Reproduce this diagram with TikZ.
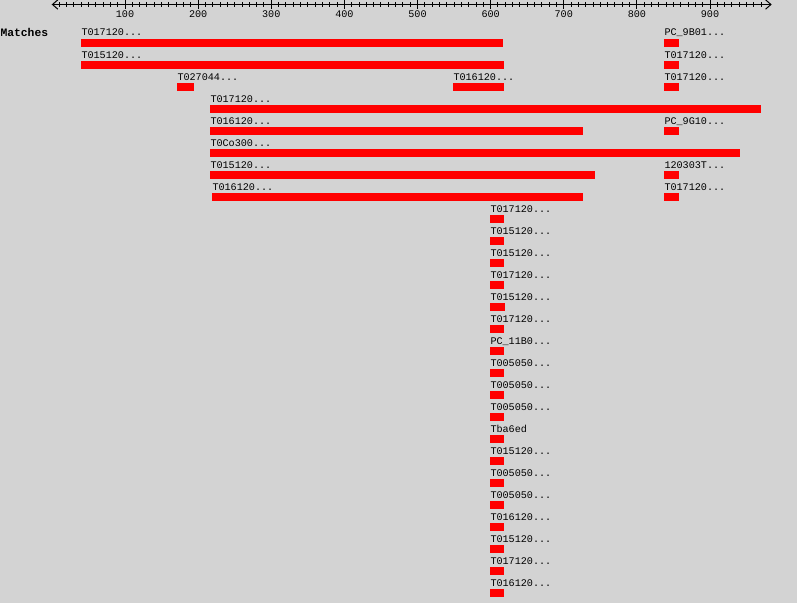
\documentclass[tikz,border=0pt]{standalone}
\usepackage{fontspec}
\setmonofont{Liberation Mono}
\usetikzlibrary{arrows.meta}
\definecolor{panel}{HTML}{D3D3D3}
\definecolor{hitred}{HTML}{FF0000}

\begin{document}
\begin{tikzpicture}[x=0.75pt,y=-0.75pt,line width=0.75pt,
    lab/.style={anchor=base west,inner sep=0pt,font=\ttfamily\fontsize{7.6}{9}\selectfont},
    ticklab/.style={anchor=base,inner sep=0pt,font=\ttfamily\fontsize{7.6}{9}\selectfont},
    barb/.tip={Straight Barb[length=4pt,width=7pt]}]
    \fill[panel] (0,0) rectangle (797,603);
    \useasboundingbox (0,0) rectangle (797,603);
    % ruler
    \coordinate (rl) at (51.7,4.5);
    \coordinate (rr) at (771.7,4.5);
    \draw[barb-barb] (rl) -- (rr);
    \foreach \v in {10,20,...,970} \draw ({125+(\v-100)*0.73125},2) -- ({125+(\v-100)*0.73125},7);
    \foreach \v in {100,200,...,900} {
      \draw ({125+(\v-100)*0.73125},0) -- ({125+(\v-100)*0.73125},9);
      \node[ticklab] (n\v) at ({125+(\v-100)*0.73125},17) {\v};
    }
    \node[anchor=base west,inner sep=0pt,font=\ttfamily\bfseries\fontsize{8.5}{10}\selectfont] (matches) at (0,36.5) {Matches};
    % hits: row/start/end/label
    \foreach \r/\s/\e/\t in {0/81/503/{T017120...},0/664/679/{PC\_9B01...},
        1/81/504/{T015120...},1/664/679/{T017120...},
        2/177/194/{T027044...},2/453/504/{T016120...},2/664/679/{T017120...},
        3/210/761/{T017120...},
        4/210/583/{T016120...},4/664/679/{PC\_9G10...},
        5/210/740/{T0Co300...},
        6/210/595/{T015120...},6/664/679/{120303T...},
        7/212/583/{T016120...},7/664/679/{T017120...},
        8/490/504/{T017120...},9/490/504/{T015120...},10/490/504/{T015120...},
        11/490/504/{T017120...},12/490/505/{T015120...},13/490/504/{T017120...},
        14/490/504/{PC\_11B0...},15/490/504/{T005050...},16/490/504/{T005050...},
        17/490/504/{T005050...},18/490/504/{Tba6ed},19/490/504/{T015120...},
        20/490/504/{T005050...},21/490/504/{T005050...},22/490/504/{T016120...},
        23/490/504/{T015120...},24/490/504/{T017120...},25/490/504/{T016120...}} {
      \node[lab] (lab\r-\s) at (\s,{36+22*\r}) {\t};
      \fill[hitred] (\s,{39+22*\r}) rectangle (\e,{47+22*\r});
    }
  \end{tikzpicture}
\end{document}
